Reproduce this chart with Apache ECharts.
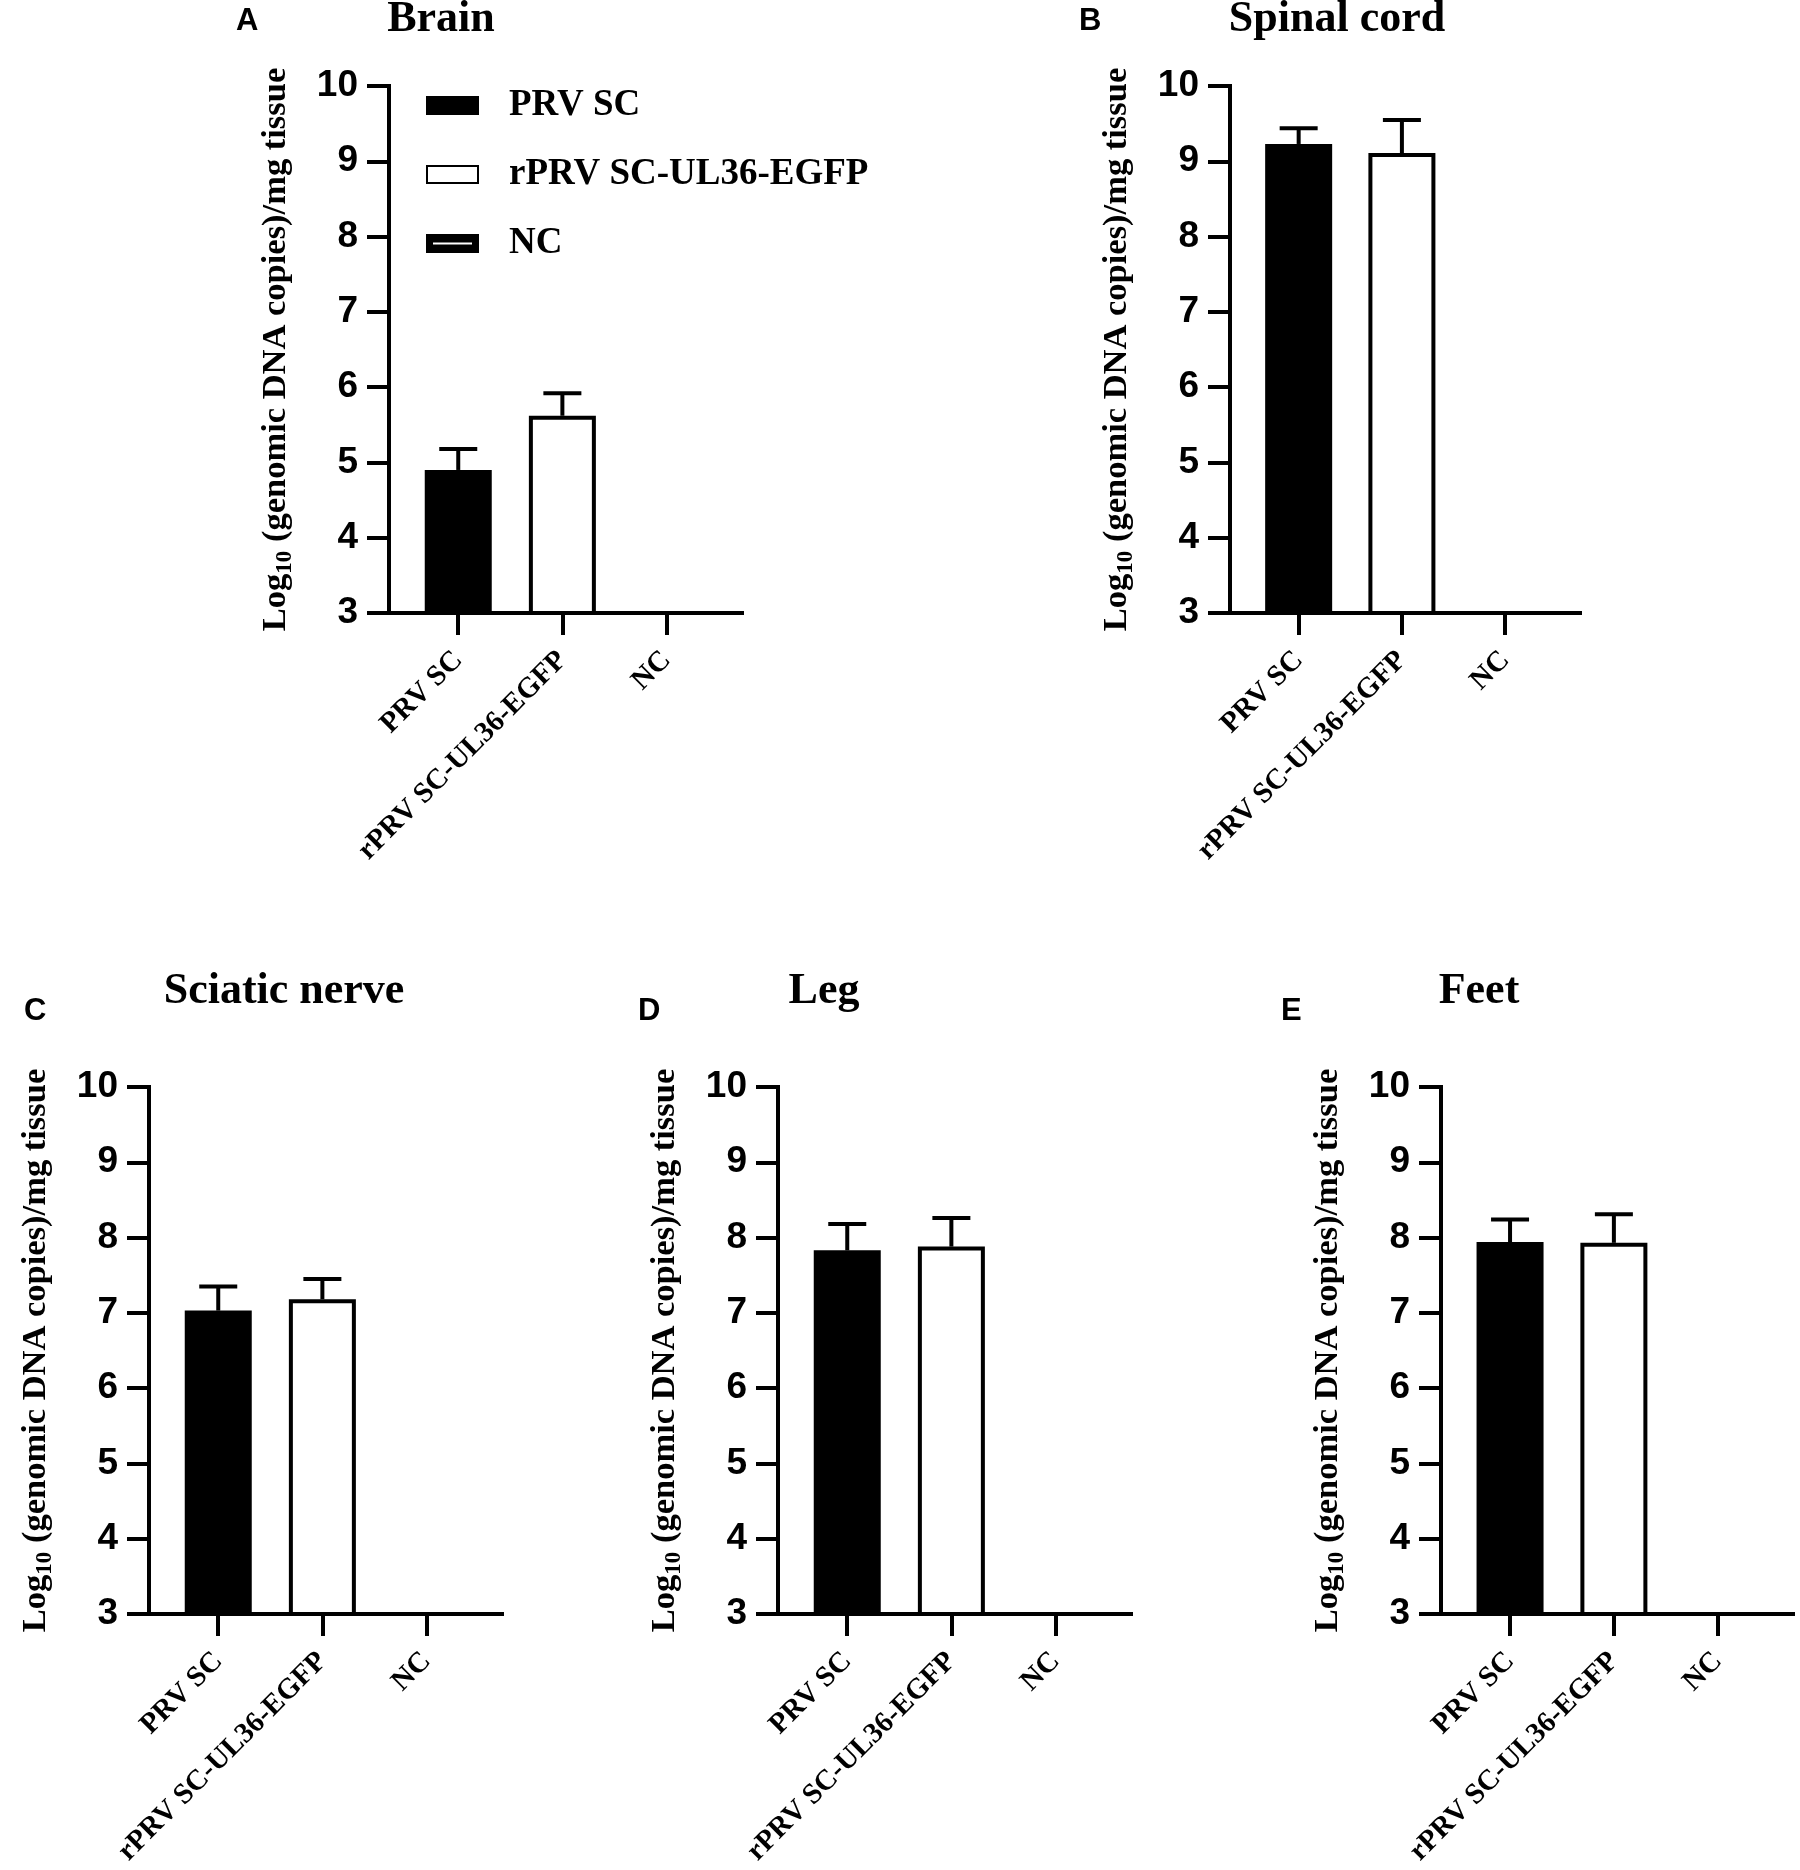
<!DOCTYPE html>
<html>
<head>
<meta charset="utf-8">
<script src="https://cdn.jsdelivr.net/npm/echarts@6/dist/echarts.min.js"></script>
<style>
html,body{margin:0;padding:0;background:#fff;}
#chart{width:1800px;height:1870px;}
</style>
</head>
<body>
<div id="chart"></div>
<script>
// ---- data ----
const panelTitles = ['Brain', 'Spinal cord', 'Sciatic nerve', 'Leg', 'Feet'];
const panelLetters = ['A', 'B', 'C', 'D', 'E'];
const groups = ['PRV SC', 'rPRV SC-UL36-EGFP', 'NC'];
const prvMean  = [4.90, 9.23, 7.03, 7.83, 7.94];
const prvSD    = [0.28, 0.21, 0.32, 0.35, 0.30];
const rprvMean = [5.62, 9.11, 7.18, 7.88, 7.93];
const rprvSD   = [0.30, 0.44, 0.27, 0.38, 0.38];
const ncMean   = [null, null, null, null, null];
const yTicks   = [3, 4, 5, 6, 7, 8, 9, 10];

// ---- layout ----
const grids = [
  {left: 389, top: 86, width: 353, height: 527},
  {left: 1230, top: 86, width: 350, height: 527},
  {left: 149, top: 1087, width: 353, height: 527},
  {left: 778, top: 1087, width: 353, height: 527},
  {left: 1441, top: 1087, width: 352, height: 527}
];
const titlePos = [
  {x: 441, y: -2}, {x: 1337, y: -2}, {x: 284, y: 970}, {x: 824, y: 970}, {x: 1479, y: 970}
];
const letterPos = [
  {x: 236, y: 6}, {x: 1079, y: 6}, {x: 24, y: 996}, {x: 638, y: 996}, {x: 1281, y: 996}
];

const serif = 'Liberation Serif, Times New Roman, serif';
const sans = 'Liberation Sans, Arial, sans-serif';

const option = {
  backgroundColor: '#fff',
  animation: false,
  title: [],
  grid: [],
  xAxis: [],
  yAxis: [],
  series: [],
  legend: {
    left: 426, top: 87, orient: 'vertical', padding: 0,
    itemWidth: 51, itemHeight: 17, itemGap: 32,
    icon: 'rect',
    textStyle: {fontFamily: serif, fontWeight: 'bold', fontSize: 37, color: '#000', padding: [0, 0, 0, 26]},
    data: [
      {name: groups[0]},
      {name: groups[1]},
      {name: groups[2], icon: 'path://M0,0L51,0L51,17L0,17Z M5,6.5L5,10.5L46,10.5L46,6.5Z'}
    ]
  }
};

grids.forEach((g, i) => {
  option.grid.push(Object.assign({containLabel: false}, g));
  option.title.push({
    text: panelTitles[i], left: titlePos[i].x, top: titlePos[i].y, textAlign: 'center', padding: 0,
    textStyle: {fontFamily: serif, fontWeight: 'bold', fontSize: 44, color: '#000'}
  });
  option.title.push({
    text: panelLetters[i], left: letterPos[i].x, top: letterPos[i].y, padding: 0,
    textStyle: {fontFamily: sans, fontWeight: 'bold', fontSize: 31, color: '#000'}
  });
  option.xAxis.push({
    type: 'value', gridIndex: i, min: -0.665, max: 2.725,
    splitLine: {show: false},
    axisLine: {show: true, onZero: false, lineStyle: {color: '#000', width: 4, cap: 'square'}},
    axisTick: {show: true, customValues: [0, 1, 2], length: 22, lineStyle: {color: '#000', width: 4}},
    axisLabel: {
      customValues: [0, 1, 2], rotate: 45, margin: 43, padding: [16, 0, 0, 0],
      formatter: v => groups[Math.round(v)],
      fontFamily: serif, fontWeight: 'bold', fontSize: 29, color: '#000'
    }
  });
  option.yAxis.push({
    type: 'value', gridIndex: i, min: yTicks[0], max: yTicks[yTicks.length - 1], interval: 1,
    splitLine: {show: false},
    axisLine: {show: true, onZero: false, lineStyle: {color: '#000', width: 4, cap: 'square'}},
    axisTick: {show: true, length: 22, lineStyle: {color: '#000', width: 4}},
    axisLabel: {margin: 31, fontFamily: sans, fontWeight: 'bold', fontSize: 37, color: '#000'},
    name: '{a|Log}{s|10}{a| (genomic DNA copies)/mg tissue}',
    nameLocation: 'middle', nameRotate: 90, nameGap: 92,
    nameTextStyle: {
      rich: {
        a: {fontFamily: serif, fontWeight: 'bold', fontSize: 34.5, color: '#000', lineHeight: 42, verticalAlign: 'middle'},
        s: {fontFamily: serif, fontWeight: 'bold', fontSize: 23, color: '#000', lineHeight: 23, verticalAlign: 'bottom'}
      }
    }
  });
  const barCommon = {
    type: 'bar', xAxisIndex: i, yAxisIndex: i, barWidth: 67, barGap: '-100%', z: 2
  };
  option.series.push(Object.assign({}, barCommon, {
    name: groups[0],
    itemStyle: {color: '#000', borderColor: '#000', borderWidth: 4},
    data: [[0, prvMean[i]]]
  }));
  option.series.push(Object.assign({}, barCommon, {
    name: groups[1],
    itemStyle: {color: '#fff', borderColor: '#000', borderWidth: 4},
    data: [[1, rprvMean[i]]]
  }));
  option.series.push(Object.assign({}, barCommon, {
    name: groups[2],
    itemStyle: {color: '#000', borderColor: '#000', borderWidth: 4},
    data: [[2, ncMean[i] === null ? '-' : ncMean[i]]]
  }));
  option.series.push({
    type: 'custom', name: 'err' + i, xAxisIndex: i, yAxisIndex: i, z: 3,
    encode: {x: 0, y: 1},
    data: [[0, prvMean[i], prvSD[i]], [1, rprvMean[i], rprvSD[i]]],
    renderItem: function (params, api) {
      const x = api.value(0), m = api.value(1), s = api.value(2);
      const p0 = api.coord([x, m]);
      const p1 = api.coord([x, m + s]);
      const hw = 19;
      return {
        type: 'group',
        children: [
          {type: 'line', shape: {x1: p0[0], y1: p0[1], x2: p1[0], y2: p1[1]}, style: {stroke: '#000', lineWidth: 4}},
          {type: 'line', shape: {x1: p1[0] - hw, y1: p1[1], x2: p1[0] + hw, y2: p1[1]}, style: {stroke: '#000', lineWidth: 4}}
        ]
      };
    }
  });
});

const chart = echarts.init(document.getElementById('chart'), null, {renderer: 'canvas'});
chart.setOption(option);
</script>
</body>
</html>
